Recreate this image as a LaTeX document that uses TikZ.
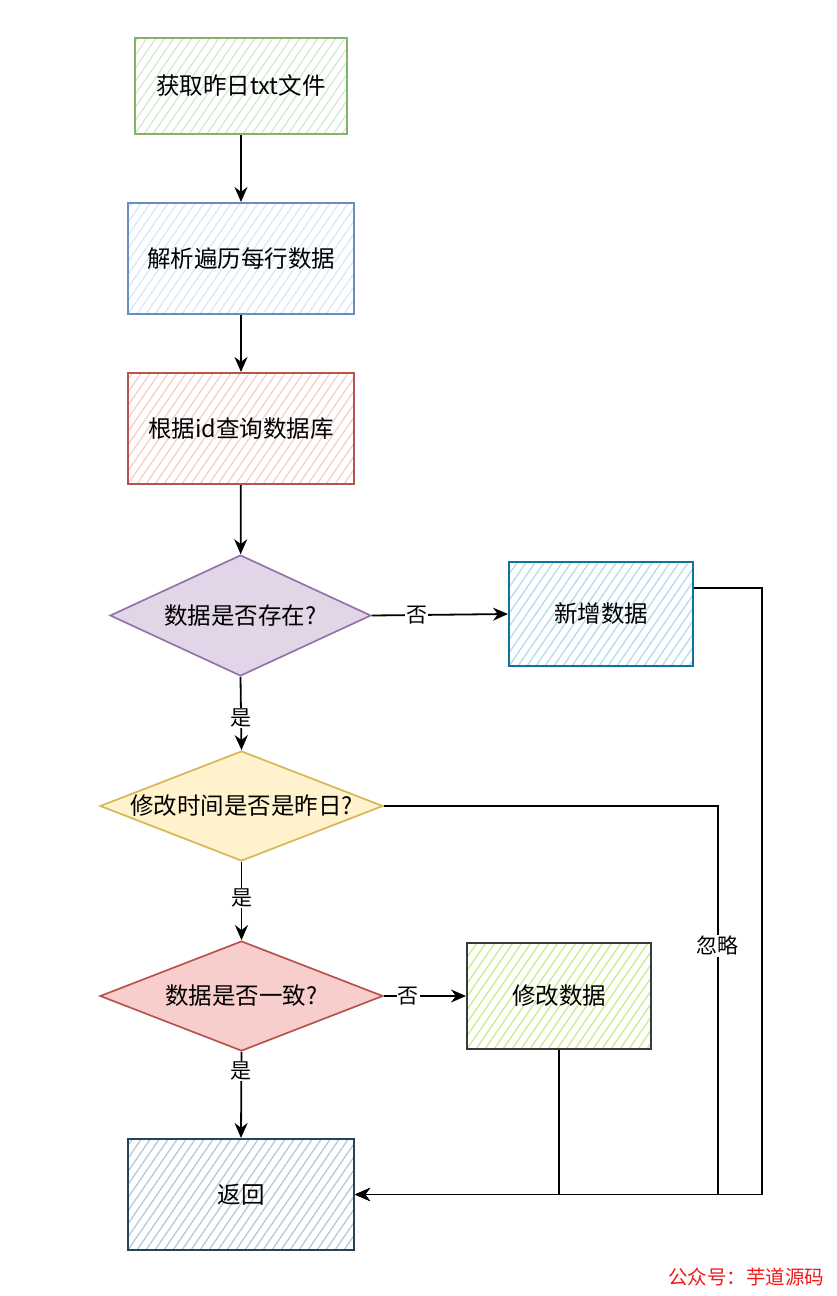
\documentclass[tikz,border=0pt]{standalone}
\usepackage{fontspec}
\setmainfont{Noto Sans CJK SC}
\usetikzlibrary{shapes.geometric,arrows.meta}

\definecolor{greenfill}{HTML}{D5E8D4}
\definecolor{greenline}{HTML}{82B366}
\definecolor{bluefill}{HTML}{DAE8FC}
\definecolor{blueline}{HTML}{6C8EBF}
\definecolor{redfill}{HTML}{F8CECC}
\definecolor{redline}{HTML}{B85450}
\definecolor{purplefill}{HTML}{E1D5E7}
\definecolor{purpleline}{HTML}{9673A6}
\definecolor{yellowfill}{HTML}{FFF2CC}
\definecolor{yellowline}{HTML}{D6B656}
\definecolor{addfill}{HTML}{B1DDF0}
\definecolor{addline}{HTML}{10739E}
\definecolor{modfill}{HTML}{CDEB8B}
\definecolor{modline}{HTML}{36393D}
\definecolor{backfill}{HTML}{BAC8D3}
\definecolor{backline}{HTML}{23445D}
\definecolor{markred}{HTML}{F01818}

\begin{document}
\begin{tikzpicture}[x=1pt,y=-1pt,
        font=\fontsize{23.5}{28}\selectfont,
        hatch/.style={path picture={
            \foreach \k in {-90,-81,...,240}
                \draw[#1,line width=1.3pt] ([xshift=\k pt]path picture bounding box.south west) -- ++(110pt,160pt);}},
        procbox/.style 2 args={rectangle,draw=#1,line width=2pt,hatch=#2,
            minimum width=226pt,minimum height=111pt,inner sep=0pt},
        choice/.style 2 args={diamond,draw=#1,fill=#2,line width=1.7pt,inner sep=0pt},
        flow/.style={-{Stealth[length=15pt,width=13pt]},line width=1.8pt},
        tag/.style={fill=white,inner sep=1pt,font=\fontsize{21}{25}\selectfont}]
    \useasboundingbox (0,0) rectangle (836,1296);

    \node[procbox={greenline}{greenfill},minimum width=212pt,minimum height=96pt] (load) at (241,86) {获取昨日txt文件};
    \node[procbox={blueline}{bluefill}] (parse) at (241,258.5) {解析遍历每行数据};
    \node[procbox={redline}{redfill}] (query) at (241,428.5) {根据id查询数据库};

    \node[choice={purpleline}{purplefill},minimum width=261pt,minimum height=121pt,
        label={center:数据是否存在?}] (exist) at (240.5,615.5) {};
    \node[procbox={addline}{addfill},minimum width=184pt,minimum height=104pt] (add) at (601,614) {新增数据};

    \node[choice={yellowline}{yellowfill},minimum width=283pt,minimum height=110pt,
        label={center:修改时间是否是昨日?}] (today) at (241.5,806) {};
    \node[choice={redline}{redfill},minimum width=283pt,minimum height=110pt,
        label={center:数据是否一致?}] (same) at (241.5,996) {};
    \node[procbox={modline}{modfill},minimum width=184pt,minimum height=106pt] (modify) at (559,996) {修改数据};

    \node[procbox={backline}{backfill}] (back) at (241,1194.5) {返回};

    \node[text=markred,font=\fontsize{19.5}{23}\selectfont] (mark) at (746,1277) {公众号：芋道源码};

    \draw[flow] (load) -- (parse);
    \draw[flow] (parse) -- (query);
    \draw[flow] (query) -- (exist);
    \draw[flow] (exist.east) -- node[tag,pos=0.33] {否} (add.west);
    \draw[flow] (exist.south) -- node[tag,pos=0.56] {是} (today.north);
    \draw[flow] (today.south) -- node[tag,pos=0.46] {是} (same.north);
    \draw[flow] (same.east) -- node[tag,pos=0.3] {否} (modify.west);
    \draw[flow] (same.south) -- node[tag,pos=0.22] {是} (back.north);

    \draw[flow] ([yshift=26pt]add.east) -- ++(68,0) |- (back.east);
    \draw[flow] (today.east) -- ++(334,0) |- node[tag,pos=0.18] {忽略} (back.east);
    \draw[flow] (modify.south) |- (back.east);
\end{tikzpicture}
\end{document}
